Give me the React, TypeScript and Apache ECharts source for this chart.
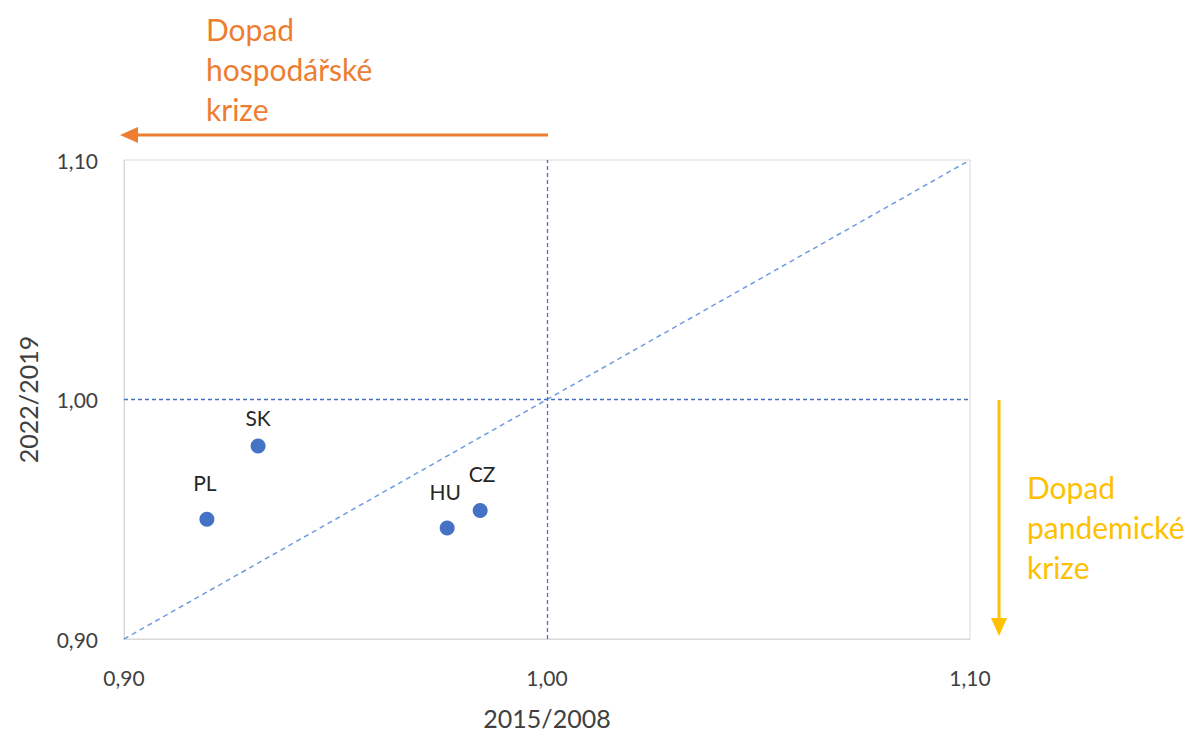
import React, { useEffect, useRef } from "react";
import * as echarts from "echarts";

const countries = ["PL", "SK", "HU", "CZ"];
const xValues = [0.9196, 0.9317, 0.9764, 0.9842];
const yValues = [0.95, 0.9806, 0.9463, 0.9537];
const labelOffsets: [number, number][] = [[-2, -9], [0, 0], [-2, -9], [2, -9]];
const axisTicks = [0.9, 1.0, 1.1];
const diagonal = [[0.9, 0.9], [1.1, 1.1]];

const FONT = "Lato, 'Open Sans', sans-serif";
const fmt = (v: number) => v.toFixed(2).replace(".", ",");

export default function App() {
  const ref = useRef<HTMLDivElement>(null);
  useEffect(() => {
    if (!ref.current) return;
    const chart = echarts.init(ref.current, null, { renderer: "svg" });
    const points = countries.map((c, i) => ({
      name: c,
      value: [xValues[i], yValues[i]],
      label: { offset: labelOffsets[i] },
    }));
    chart.setOption({
      animation: false,
      textStyle: { fontFamily: FONT },
      grid: {
        left: 124,
        top: 160,
        width: 846,
        height: 484,
        show: true,
        borderColor: "#d9d9d9",
        borderWidth: 1,
      },
      xAxis: {
        type: "value",
        min: axisTicks[0],
        max: axisTicks[2],
        interval: 0.1,
        name: "2015/2008",
        nameLocation: "middle",
        nameGap: 66,
        nameTextStyle: { fontSize: 25, color: "#404040", fontFamily: FONT },
        axisLine: { show: true, lineStyle: { color: "#d9d9d9" } },
        axisTick: { show: false },
        splitLine: { show: false },
        axisLabel: {
          formatter: fmt,
          fontSize: 21,
          color: "#404040",
          margin: 28,
          fontFamily: FONT,
        },
      },
      yAxis: {
        type: "value",
        min: axisTicks[0],
        max: axisTicks[2],
        interval: 0.1,
        name: "2022/2019",
        nameLocation: "middle",
        nameGap: 84,
        nameTextStyle: { fontSize: 25, color: "#404040", fontFamily: FONT },
        axisLine: { show: true, lineStyle: { color: "#d9d9d9" } },
        axisTick: { show: false },
        splitLine: { show: false },
        axisLabel: {
          formatter: fmt,
          fontSize: 21,
          color: "#404040",
          margin: 26,
          fontFamily: FONT,
        },
      },
      series: [
        {
          type: "line",
          data: diagonal,
          symbol: "none",
          lineStyle: { color: "#6f9be0", type: [5, 4], width: 1.5 },
          silent: true,
          z: 1,
          markLine: {
            silent: true,
            symbol: "none",
            label: { show: false },
            lineStyle: { color: "#4472c4", type: [4, 3], width: 1.3 },
            data: [{ xAxis: 1.0 }, { yAxis: 1.0 }],
          },
        },
        {
          type: "scatter",
          data: points,
          symbolSize: 15,
          itemStyle: { color: "#4472c4", opacity: 1 },
          z: 3,
          label: {
            show: true,
            position: "top",
            distance: 10,
            formatter: "{b}",
            fontSize: 21,
            color: "#262626",
            fontFamily: FONT,
          },
        },
      ],
      graphic: [
        {
          type: "line",
          shape: { x1: 548, y1: 135, x2: 134, y2: 135 },
          style: { stroke: "#ed7d31", lineWidth: 3 },
        },
        {
          type: "polygon",
          shape: { points: [[120, 135], [138, 127], [138, 143]] },
          style: { fill: "#ed7d31" },
        },
        {
          type: "text",
          left: 206,
          top: 9,
          style: {
            text: "Dopad\nhospodářské\nkrize",
            fill: "#ed7d31",
            font: `30px ${FONT}`,
            lineHeight: 40,
          },
        },
        {
          type: "line",
          shape: { x1: 999, y1: 400, x2: 999, y2: 620 },
          style: { stroke: "#ffc000", lineWidth: 3 },
        },
        {
          type: "polygon",
          shape: { points: [[999, 636], [991, 618], [1007, 618]] },
          style: { fill: "#ffc000" },
        },
        {
          type: "text",
          left: 1027,
          top: 467,
          style: {
            text: "Dopad\npandemické\nkrize",
            fill: "#ffc000",
            font: `30px ${FONT}`,
            lineHeight: 40,
          },
        },
      ],
    });
    return () => chart.dispose();
  }, []);
  return (
    <div
      ref={ref}
      style={{ position: "fixed", left: 0, top: 0, width: 1195, height: 735, background: "#fff" }}
    />
  );
}
